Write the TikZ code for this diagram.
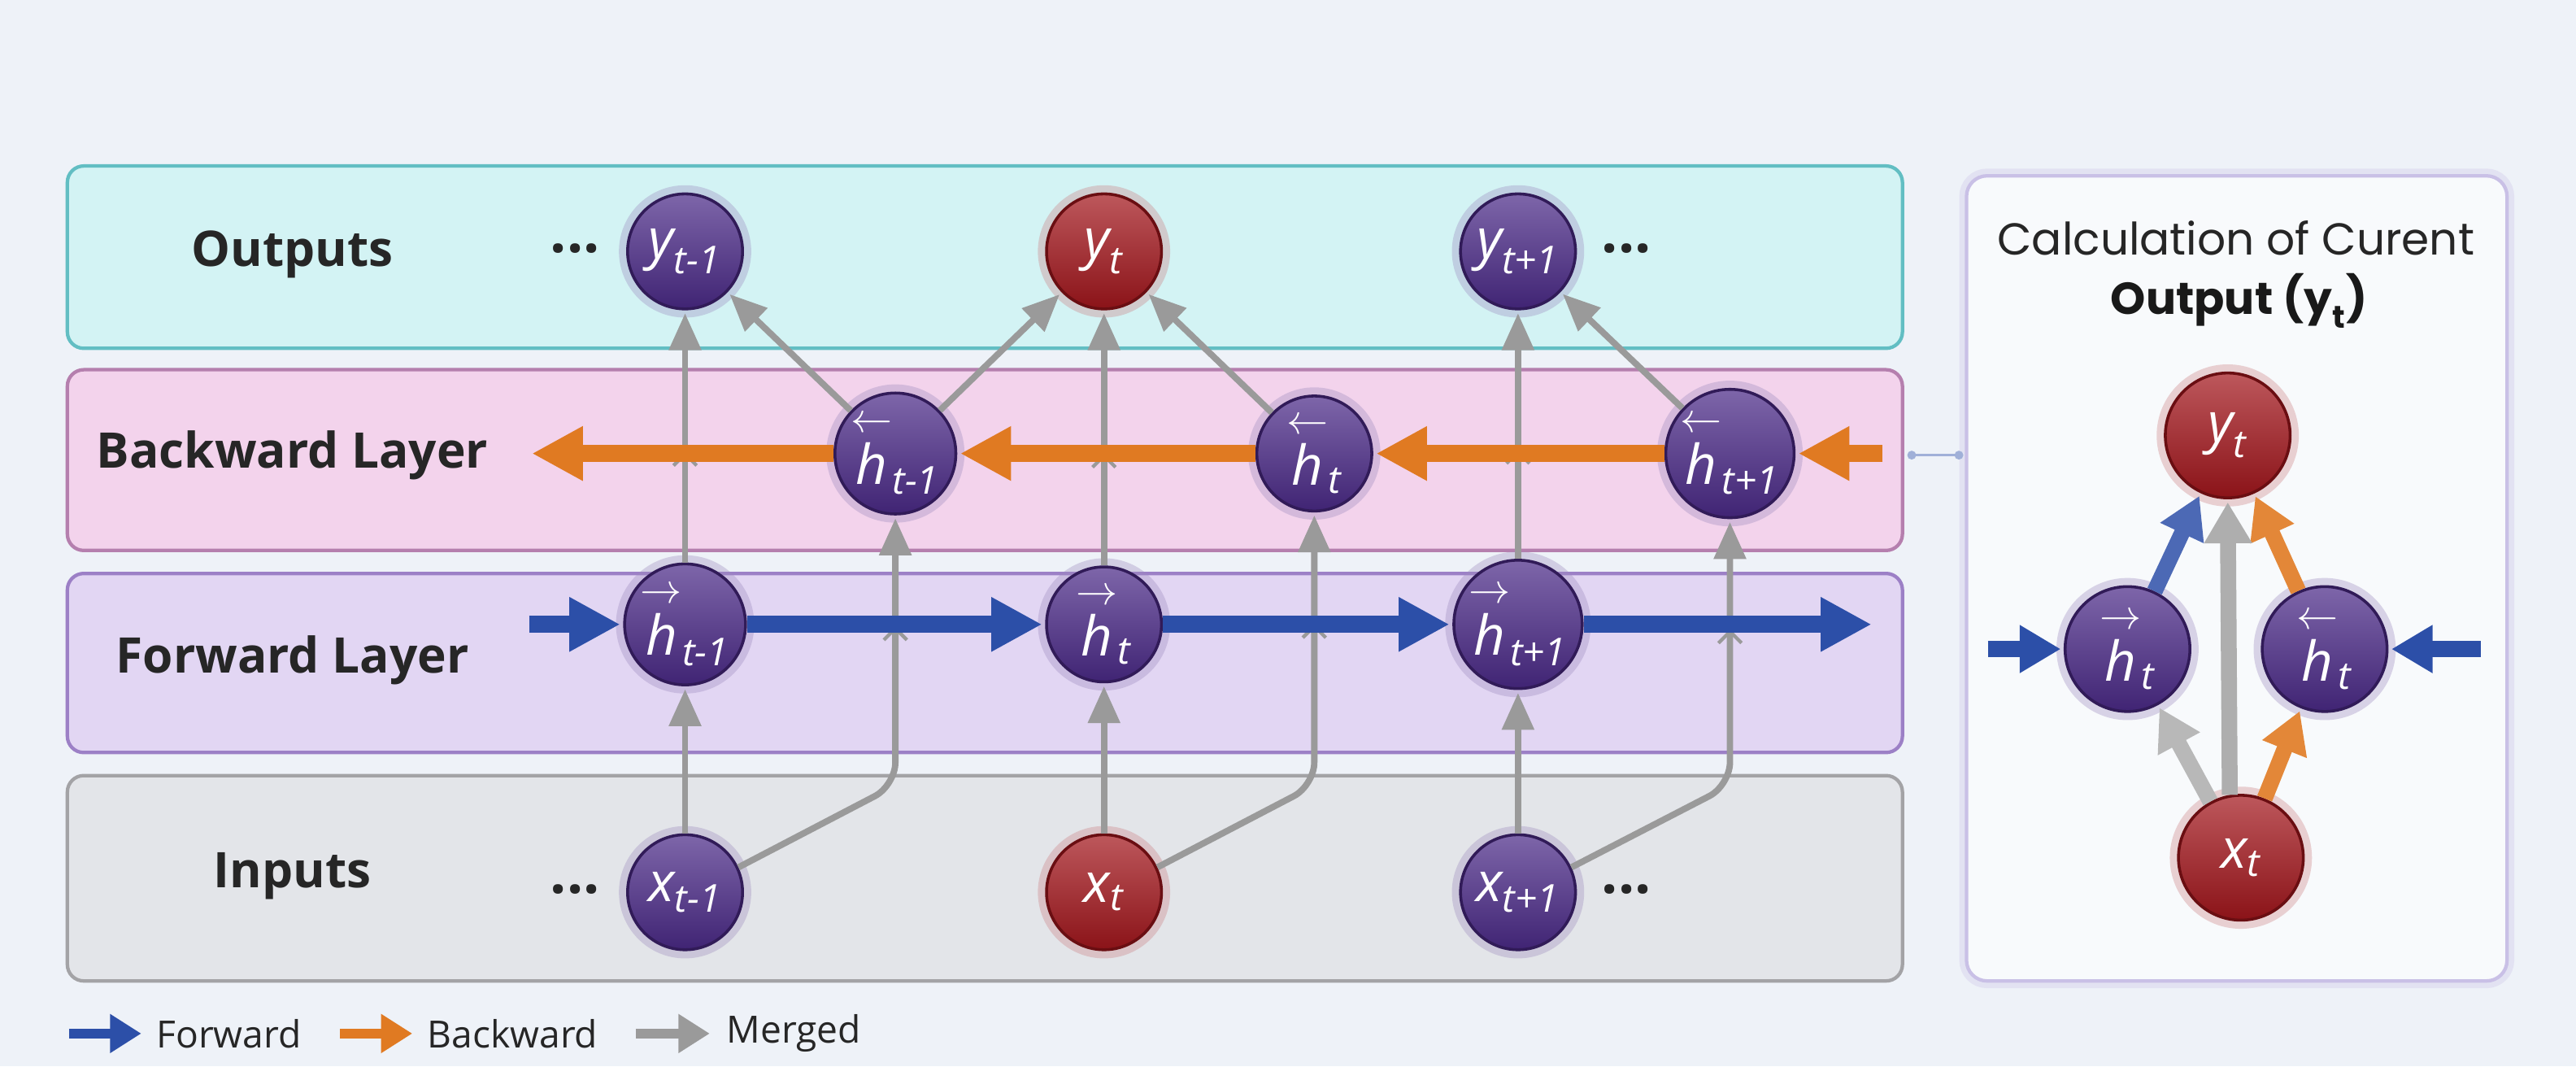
\documentclass[tikz,border=0pt]{standalone}
\usepackage{amsmath}
\usepackage{fontspec}
\setmainfont{Open Sans}
\newfontfamily\titlefont{Poppins}
\usetikzlibrary{arrows.meta,decorations.markings}

\definecolor{bgcol}{HTML}{EEF2F8}
\definecolor{outfill}{HTML}{D3F3F4}
\definecolor{outdraw}{HTML}{62BEC3}
\definecolor{bwfill}{HTML}{F3D3EC}
\definecolor{bwdraw}{HTML}{B57FAE}
\definecolor{fwfill}{HTML}{E2D6F3}
\definecolor{fwdraw}{HTML}{9C80C6}
\definecolor{infill}{HTML}{E3E5E9}
\definecolor{indraw}{HTML}{A3A3A6}
\definecolor{fwblue}{HTML}{2C4FA8}
\definecolor{bworange}{HTML}{E07A22}
\definecolor{mergegray}{HTML}{9A9A9A}
\definecolor{nodepurple}{HTML}{4B2A88}
\definecolor{nodered}{HTML}{A3161C}
\definecolor{calcdraw}{HTML}{C9C0E6}

\newcommand{\hfw}[1]{$\overset{\rightarrow}{\textit{h}}_{\textit{#1}}$}
\newcommand{\hbw}[1]{$\overset{\leftarrow}{\textit{h}}_{\textit{#1}}$}
\newcommand{\vx}[2]{$\textit{#1}_{\textit{#2}}$}

\tikzset{
  unit/.style={circle, minimum size=1.4cm, inner sep=0pt, draw=#1!65!black,
    line width=1pt, top color=#1!72!white, bottom color=#1!85!black, text=white,
    font=\fontsize{19}{19}\selectfont,
    preaction={draw=#1!55!white, line width=6pt, draw opacity=0.35}},
  unit/.default=nodepurple,
  panel/.style={line width=1.2pt, rounded corners=0.2cm},
  layer/.style={font=\fontsize{17}{20}\selectfont\bfseries, text=black!85},
  dots/.style={font=\fontsize{20}{20}\selectfont\bfseries, text=black!85},
  fwd/.style={draw=fwblue, line width=6pt, shorten >=1pt,
    -{Triangle[length=0.62cm, width=0.62cm]}},
  bwd/.style={fwd, draw=bworange},
  merge/.style={draw=mergegray, line width=2.2pt, shorten >=1pt,
    -{Triangle[length=0.45cm, width=0.38cm]}},
  chev/.style={postaction={decorate, decoration={markings,
    mark=at position #1 with {\arrow[mergegray, line width=1.2pt]{Straight Barb[length=4pt, width=8pt]}}}}},
  fat/.style={line width=5.5pt, shorten >=1pt, -{Triangle[length=0.5cm, width=0.55cm]}},
  legarrow/.style={line width=3.5pt, -{Triangle[length=0.38cm, width=0.45cm]}},
  legtext/.style={anchor=west, font=\fontsize{13}{15}\selectfont, text=black!85},
}

\begin{document}
\begin{tikzpicture}[x=0.02cm, y=-0.02cm]
  \useasboundingbox (0,0) rectangle (1568,649);
  \fill[bgcol] (0,0) rectangle (1568,649);

  % layer bands
  \draw[panel, fill=outfill, draw=outdraw] (41,101) rectangle (1158,212);
  \draw[panel, fill=bwfill, draw=bwdraw] (41,225) rectangle (1158,335);
  \draw[panel, fill=fwfill, draw=fwdraw] (41,349) rectangle (1158,458);
  \draw[panel, fill=infill, draw=indraw] (41,472) rectangle (1158,597);
  \draw[panel, fill=white!60!bgcol, draw=calcdraw, rounded corners=0.25cm,
    preaction={draw=calcdraw, line width=5pt, draw opacity=0.3}] (1197,107) rectangle (1526,597);

  \node[layer] (lout) at (178,155) {Outputs};
  \node[layer] (lbw) at (178,277) {Backward Layer};
  \node[layer] (lfw) at (178,402) {Forward Layer};
  \node[layer] (lin) at (178,533) {Inputs};

  % units
  \node[unit] (ya) at (417,153) {\vx{y}{t-1}};
  \node[unit=nodered] (yb) at (672,153) {\vx{y}{t}};
  \node[unit] (yc) at (924,153) {\vx{y}{t+1}};
  \node[unit] (hba) at (545,276) {\hbw{t-1}};
  \node[unit] (hbb) at (800,276) {\hbw{t}};
  \node[unit] (hbc) at (1053,276) {\hbw{t+1}};
  \node[unit] (hfa) at (417,380) {\hfw{t-1}};
  \node[unit] (hfb) at (672,380) {\hfw{t}};
  \node[unit] (hfc) at (924,380) {\hfw{t+1}};
  \node[unit] (xa) at (417,543) {\vx{x}{t-1}};
  \node[unit=nodered] (xb) at (672,543) {\vx{x}{t}};
  \node[unit] (xc) at (924,543) {\vx{x}{t+1}};

  \node[dots] (dya) at (350,151) {...};
  \node[dots] (dyc) at (990,151) {...};
  \node[dots] (dxa) at (350,541) {...};
  \node[dots] (dxc) at (990,541) {...};

  \coordinate (fin) at (322,380);
  \coordinate (fout) at (1141,380);
  \coordinate (bin) at (1146,276);
  \coordinate (bout) at (322,276);
  \coordinate (ka) at (545,478);
  \coordinate (kb) at (800,478);
  \coordinate (kc) at (1053,478);

  % merged connections
  \foreach \x/\hf/\hb/\y/\k in {xa/hfa/hba/ya/ka, xb/hfb/hbb/yb/kb, xc/hfc/hbc/yc/kc} {
    \draw[merge] (\x) -- (\hf);
    \draw[merge, chev=0.44] (\hf) -- (\y);
    \draw[merge] (\hb) -- (\y);
    \draw[merge, rounded corners=8pt, chev=0.75] (\x.25) -- (\k) -- (\hb);
  }
  \draw[merge] (hba) -- (yb);

  % forward and backward flows
  \draw[fwd] (fin) -- (hfa);
  \draw[fwd] (hfa) -- (hfb);
  \draw[fwd] (hfb) -- (hfc);
  \draw[fwd] (hfc) -- (fout);
  \draw[bwd] (bin) -- (hbc);
  \draw[bwd] (hbc) -- (hbb);
  \draw[bwd] (hbb) -- (hba);
  \draw[bwd] (hba) -- (bout);

  \coordinate (bwend) at (1161,277);
  \coordinate (calcin) at (1195,277);
  \draw[fwblue!45, line width=1pt, {Circle[length=3pt]}-{Circle[length=3pt]}] (bwend) -- (calcin);

  % current output detail
  \node[font=\titlefont\fontsize{15.5}{18}\selectfont, text=black!85] (ttl) at (1361,145) {Calculation of Curent};
  \node[font=\titlefont\fontsize{15.5}{18}\selectfont\bfseries, text=black!90] (ttlb) at (1363,183) {Output ($\textbf{y}_{\textbf{t}}$)};

  \node[unit=nodered, minimum size=1.52cm] (yr) at (1356,265) {\vx{y}{t}};
  \node[unit, minimum size=1.52cm] (hfr) at (1295,395) {\hfw{t}};
  \node[unit, minimum size=1.52cm] (hbr) at (1415,395) {\hbw{t}};
  \node[unit=nodered, minimum size=1.52cm] (xr) at (1364,522) {\vx{x}{t}};

  \coordinate (rinl) at (1210,395);
  \coordinate (rinr) at (1510,395);
  \draw[fat, fwblue] (rinl) -- (hfr);
  \draw[fat, fwblue] (rinr) -- (hbr);
  \draw[fat, fwblue!85!white] (hfr) -- (yr);
  \draw[fat, bworange!90!white] (hbr) -- (yr);
  \draw[fat, mergegray!80] (xr.100) -- (yr.south);
  \draw[fat, mergegray!70] (xr) -- (hfr);
  \draw[fat, bworange!90!white] (xr) -- (hbr);

  % legend
  \coordinate (lga) at (42,629);
  \coordinate (lgb) at (86,629);
  \coordinate (lgc) at (207,629);
  \coordinate (lgd) at (251,629);
  \coordinate (lge) at (387,629);
  \coordinate (lgf) at (432,629);
  \draw[legarrow, fwblue] (lga) -- (lgb);
  \draw[legarrow, bworange] (lgc) -- (lgd);
  \draw[legarrow, mergegray] (lge) -- (lgf);
  \node[legtext] (tfw) at (89,629) {Forward};
  \node[legtext] (tbw) at (254,629) {Backward};
  \node[legtext] (tmg) at (436,629) {Merged};
\end{tikzpicture}
\end{document}
